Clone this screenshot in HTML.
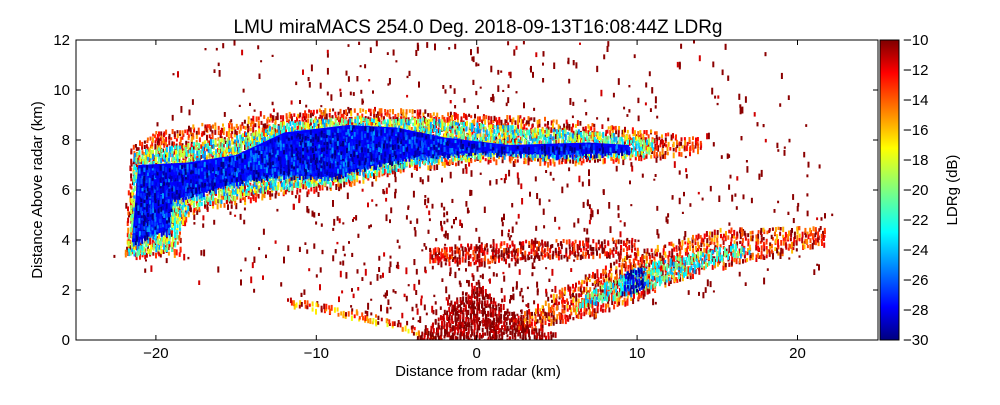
<!DOCTYPE html>
<html><head><meta charset="utf-8"><style>
body{margin:0;background:#fff;}
svg text{font-family:"Liberation Sans","DejaVu Sans",sans-serif;fill:#000;}
</style></head><body>
<svg id="c" width="1000" height="400" viewBox="0 0 1000 400">
<defs>
<linearGradient id="jet" x1="0" y1="1" x2="0" y2="0">
<stop offset="0" stop-color="#00007f"/><stop offset="0.11" stop-color="#0000ff"/>
<stop offset="0.36" stop-color="#00ffff"/><stop offset="0.5" stop-color="#7fff7f"/>
<stop offset="0.64" stop-color="#ffff00"/><stop offset="0.89" stop-color="#ff0000"/>
<stop offset="1" stop-color="#7f0000"/></linearGradient>
<clipPath id="plotclip"><rect x="76" y="40" width="802" height="300"/></clipPath>
</defs>
<text x="478" y="33" font-size="19" text-anchor="middle">LMU miraMACS 254.0 Deg. 2018-09-13T16:08:44Z  LDRg</text>
<g id="plot" clip-path="url(#plotclip)"></g>
<rect x="76" y="40" width="802" height="300" fill="none" stroke="#000" stroke-width="1"/>
<g id="axes"></g>
<rect x="880" y="40" width="19" height="300" fill="url(#jet)" stroke="#000"/>
<g id="cbticks"></g>
<text x="957" y="190" font-size="15" text-anchor="middle" transform="rotate(-90 957 190)">LDRg (dB)</text>
<text x="478" y="376" font-size="15" text-anchor="middle">Distance from radar (km)</text>
<text x="42" y="190" font-size="15" text-anchor="middle" transform="rotate(-90 42 190)">Distance Above radar  (km)</text>
</svg>
<script>
const xTicks=[-20,-10,0,10,20];
const yTicks=[0,2,4,6,8,10,12];
const cbTicks=[-10,-12,-14,-16,-18,-20,-22,-24,-26,-28,-30];
// regions: polygons in km with LDR values (dB)
const outerBand=[[-22,3.3],[-21.6,7.8],[-20,8.4],[-15,8.9],[-10,9.3],[-5,9.3],[0,9.1],[5,8.9],[10,8.5],[14,8.1],[14,7.6],[10,7.3],[5,7.1],[0,7.2],[-5,6.8],[-8,6.2],[-12,5.9],[-17,5.3],[-18.5,4.6],[-18.5,3.5]];
const outerVal=-13;
const midBand=[[-21.8,3.5],[-21.4,7.6],[-19,7.8],[-15,8.2],[-12,8.8],[-8,9.0],[-3,8.9],[2,8.6],[7,8.4],[11,8.1],[11,7.5],[6,7.3],[1,7.4],[-4,7.1],[-7,6.6],[-9,6.3],[-13,6.1],[-16,5.6],[-18,5.4],[-18.7,4.2],[-19,3.6]];
const midVal=-21;
const coreBand=[[-21.5,3.9],[-21.1,7.0],[-18,7.1],[-15,7.4],[-12,8.3],[-8,8.6],[-5,8.5],[-2,8.1],[2,7.8],[7,7.9],[9.5,7.8],[9.5,7.5],[5,7.4],[0,7.5],[-4,7.3],[-7,6.9],[-9,6.5],[-12,6.6],[-15,6.3],[-17,5.9],[-19,5.6],[-19.2,4.4]];
const coreVal=-27.5;
const lowBand=[[3,0.4],[8,1.2],[14,2.8],[21.7,3.9],[21.7,4.6],[15,4.5],[9,3.4],[5,2.0],[2,0.8]];
const lowVal=-13;
const lowInner=[[6,1.3],[10,2.0],[15,3.2],[17,3.6],[16,3.9],[10,3.0],[7,2.0]];
const lowInnerVal=-22;
const lowBlue=[[9,1.9],[10.5,2.1],[10.2,3.0],[9.3,2.8]];
const lowBlueVal=-28;
const nearBlob=[[-4,0],[-3,0.6],[-1,1.8],[0,2.4],[1,1.7],[3,0.7],[5,0.3],[4,0]];
const nearVal=-10.5;
const midLayer=[[-3,3.2],[0,3.1],[5,3.3],[10,3.5],[10,4.1],[5,4.1],[0,3.9],[-3,3.8]];
const midLayerVal=-11.5;
const leftLow=[[-12,1.8],[-7,1.2],[-3,0.4],[-2,0.1],[-3,0.1],[-7,0.8],[-12,1.5]];
const leftLowVal=-14;

const X=v=>476.7+v*16.04, Y=v=>340-v*25;
const NS='http://www.w3.org/2000/svg';
function jet(v){let t=(v+30)/20;t=Math.max(0,Math.min(1,t));
 const r=Math.max(0,Math.min(1,1.5-Math.abs(4*t-3))),g=Math.max(0,Math.min(1,1.5-Math.abs(4*t-2))),b=Math.max(0,Math.min(1,1.5-Math.abs(4*t-1)));
 return `rgb(${r*255|0},${g*255|0},${b*255|0})`;}
const plot=document.getElementById('plot');
// texture generator (deterministic decoration, not data)
let s=7;const rnd=()=>{s=(s*16807)%2147483647;return s/2147483647;};
function streak(x,y,h,col){
 const e=document.createElementNS(NS,'rect');
 
 
 e.setAttribute('x',x.toFixed(1));e.setAttribute('y',y.toFixed(1));e.setAttribute('width',2);e.setAttribute('height',h.toFixed(1));
 e.setAttribute('fill',col);
 plot.appendChild(e);}
for(let i=0;i<1300;i++){
 const r=1+rnd()*22, a=Math.PI*(0.05+rnd()*0.9);
 const kx=r*Math.cos(a), ky=r*Math.sin(a)*0.85;
 if(ky>12||ky<0)continue;
 streak(X(kx),Y(ky),2+rnd()*5,rnd()<0.85?'#8b0000':'#d00000');}
function inside(p,pts){let c=false;for(let i=0,j=pts.length-1;i<pts.length;j=i++){const a=pts[i],b=pts[j];
 if((a[1]>p[1])!=(b[1]>p[1])&&p[0]<(b[0]-a[0])*(p[1]-a[1])/(b[1]-a[1])+a[0])c=!c;}return c;}
function region(pts,val,name,dens,spread,base){
 if(base){const p=document.createElementNS(NS,'polygon');
  
  
  p.setAttribute('points',pts.map(q=>X(q[0])+','+Y(q[1])).join(' '));
  p.setAttribute('fill',jet(val));plot.appendChild(p);}
 const xs=pts.map(q=>q[0]),ys=pts.map(q=>q[1]);
 const x0=Math.min(...xs),x1=Math.max(...xs),y0=Math.min(...ys),y1=Math.max(...ys);
 for(let kx=x0;kx<=x1;kx+=0.17)for(let ky=y0;ky<=y1;ky+=0.14){
  const px=kx+rnd()*0.1,py=ky+rnd()*0.1;
  if(!inside([px,py],pts)||rnd()>dens)continue;
  streak(X(px),Y(py),3+rnd()*3,jet(val+(rnd()-0.5)*2*spread));}
}
region(outerBand,outerVal,'cloud-fringe',0.75,3.5,false);
region(midBand,midVal,'cloud-mid',0.9,4,false);
region(coreBand,coreVal,'cloud-core',0.95,3.2,true);
region(midLayer,midLayerVal,'mid-layer',0.8,3,false);
region(leftLow,leftLowVal,'low-left-echo',0.6,4,false);
region(lowBand,lowVal,'low-band',0.8,3.5,false);
region(lowInner,lowInnerVal,'low-band-inner',0.85,3,false);
region(lowBlue,lowBlueVal,'low-band-core',0.9,2,false);
region(nearBlob,nearVal,'near-radar-clutter',0.95,1.5,false);
const ax=document.getElementById('axes');
function txt(x,y,t,anchor,name){const e=document.createElementNS(NS,'text');
 
 
 e.setAttribute('x',x);e.setAttribute('y',y);e.setAttribute('font-size','15');e.setAttribute('text-anchor',anchor);e.textContent=t;ax.appendChild(e);}
function ln(x1,y1,x2,y2,name){const e=document.createElementNS(NS,'line');
 
 
 e.setAttribute('x1',x1);e.setAttribute('y1',y1);e.setAttribute('x2',x2);e.setAttribute('y2',y2);e.setAttribute('stroke','#000');ax.appendChild(e);}
xTicks.forEach(v=>{ln(X(v),340,X(v),335,'x-tick');ln(X(v),40,X(v),45,'x-tick');txt(X(v),358,(v<0?'\u2212':'')+Math.abs(v),'middle','x-tick-label');});
yTicks.forEach(v=>{ln(76,Y(v),81,Y(v),'y-tick');ln(878,Y(v),873,Y(v),'y-tick');txt(70,Y(v)+5,String(v),'end','y-tick-label');});
cbTicks.forEach(v=>{const y=40+(-10-v)/20*300;ln(895,y,899,y,'colorbar-tick');txt(903,y+5,'\u2212'+Math.abs(v),'start','colorbar-tick-label');});
</script>
</body></html>
